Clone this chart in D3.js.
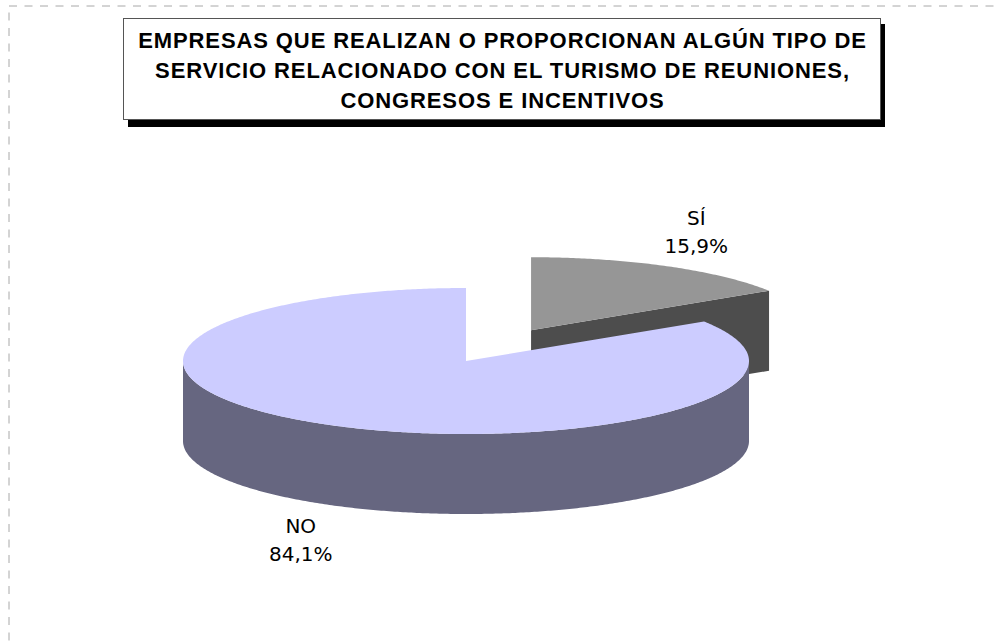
<!DOCTYPE html>
<html>
<head>
<meta charset="utf-8">
<script src="https://cdn.jsdelivr.net/npm/d3@7"></script>
<style>
  html, body { margin: 0; padding: 0; background: #fff; }
</style>
</head>
<body>
<div id="chart"></div>
<script>
// chart data
const categories = ['SÍ', 'NO'];
const values = [15.9, 84.1];
const titleLines = [
  'EMPRESAS QUE REALIZAN O PROPORCIONAN ALGÚN TIPO DE',
  'SERVICIO RELACIONADO CON EL TURISMO DE REUNIONES,',
  'CONGRESOS E INCENTIVOS'
];

const width = 996;
const height = 643;

// 3d pie geometry
const cx = 466, cy = 361;
const rx = 283, ry = 73;
const depth = 80;
const explode = [0.48, 0];
const topColors = ['#969696', '#ccccff'];
const sideColors = ['#4d4d4d', '#666680'];
const labelRx = 345, labelRy = 112;

const esLocale = d3.formatLocale({ decimal: ',', thousands: '.', grouping: [3], currency: ['', ' €'] });
const pct = esLocale.format('.1f');

const svg = d3.select('#chart')
  .append('svg')
  .attr('width', width)
  .attr('height', height);

// dashed frame (only top and left edges fall inside the picture)
svg.append('line')
  .attr('x1', 9).attr('y1', 6).attr('x2', width).attr('y2', 6)
  .attr('stroke', '#a8a8a8').attr('stroke-width', 1)
  .attr('stroke-dasharray', '8,7.5');
svg.append('line')
  .attr('x1', 9).attr('y1', 12.5).attr('x2', 9).attr('y2', height)
  .attr('stroke', '#a8a8a8').attr('stroke-width', 1)
  .attr('stroke-dasharray', '8,7.5');

// title box with drop shadow
const box = { x: 123, y: 18, w: 757, h: 101 };
svg.append('rect')
  .attr('x', box.x + 5).attr('y', box.y + 6)
  .attr('width', box.w).attr('height', box.h + 2)
  .attr('fill', '#000');
svg.append('rect')
  .attr('x', box.x + 0.5).attr('y', box.y + 0.5)
  .attr('width', box.w).attr('height', box.h)
  .attr('fill', '#fff')
  .attr('stroke', '#555').attr('stroke-width', 1);

svg.append('g')
  .selectAll('text')
  .data(titleLines)
  .enter()
  .append('text')
  .attr('x', box.x + box.w / 2 + 1)
  .attr('y', (d, i) => 48 + i * 30)
  .attr('text-anchor', 'middle')
  .style('font-family', '"Liberation Sans", Arial, sans-serif')
  .style('font-weight', 'bold')
  .style('font-size', '22px')
  .style('letter-spacing', '0.9px')
  .attr('fill', '#000')
  .text(d => d);

// pie layout: angle 0 at 12 o'clock, clockwise
const arcs = d3.pie().sort(null).value(d => d)(values);

const line = d3.line();

function pt(ox, oy, a, dy = 0) {
  return [ox + rx * Math.sin(a), oy - ry * Math.cos(a) + dy];
}

function arcPoints(ox, oy, a0, a1, dy = 0) {
  const n = Math.max(2, Math.ceil(Math.abs(a1 - a0) / 0.01));
  return d3.range(n + 1).map(k => pt(ox, oy, a0 + (a1 - a0) * k / n, dy));
}

const slices = arcs.map((a, i) => {
  const mid = (a.startAngle + a.endAngle) / 2;
  return {
    i,
    arc: a,
    mid,
    ox: cx + explode[i] * rx * Math.sin(mid),
    oy: cy - explode[i] * ry * Math.cos(mid)
  };
});

// back slices first
const drawOrder = slices.slice().sort((a, b) => a.oy - b.oy);

const pieG = svg.append('g').attr('class', 'pie');

drawOrder.forEach(s => {
  const { startAngle: a0, endAngle: a1 } = s.arc;
  const g = pieG.append('g').attr('class', 'slice');

  // radial walls facing the viewer
  const walls = [];
  if (Math.sin(a0) < -1e-6) walls.push(a0);
  if (Math.sin(a1) > 1e-6) walls.push(a1);
  walls.forEach(a => {
    const p = pt(s.ox, s.oy, a);
    g.append('path')
      .attr('d', line([[s.ox, s.oy], p, [p[0], p[1] + depth], [s.ox, s.oy + depth]]) + 'Z')
      .attr('fill', sideColors[s.i]);
  });

  // outer rim, front half only
  const f0 = Math.max(a0, Math.PI / 2);
  const f1 = Math.min(a1, Math.PI * 1.5);
  if (f1 > f0) {
    const upper = arcPoints(s.ox, s.oy, f0, f1);
    const lower = arcPoints(s.ox, s.oy, f1, f0, depth);
    g.append('path')
      .attr('d', line(upper.concat(lower)) + 'Z')
      .attr('fill', sideColors[s.i]);
  }

  // top face
  g.append('path')
    .attr('d', line([[s.ox, s.oy]].concat(arcPoints(s.ox, s.oy, a0, a1))) + 'Z')
    .attr('fill', topColors[s.i]);
});

// data labels
const labelG = svg.append('g').attr('class', 'labels');
slices.forEach(s => {
  const front = Math.cos(s.mid) < 0 ? depth : 0;
  const lx = s.ox + labelRx * Math.sin(s.mid);
  const ly = s.oy - labelRy * Math.cos(s.mid) + front;
  const t = labelG.append('text')
    .attr('text-anchor', 'middle')
    .style('font-family', '"DejaVu Sans", Verdana, sans-serif')
    .style('font-size', '20px')
    .attr('fill', '#000');
  t.append('tspan').attr('x', lx).attr('y', ly - 6.5).text(categories[s.i]);
  t.append('tspan').attr('x', lx).attr('y', ly + 21.5).text(pct(values[s.i]) + '%');
});
</script>
</body>
</html>
